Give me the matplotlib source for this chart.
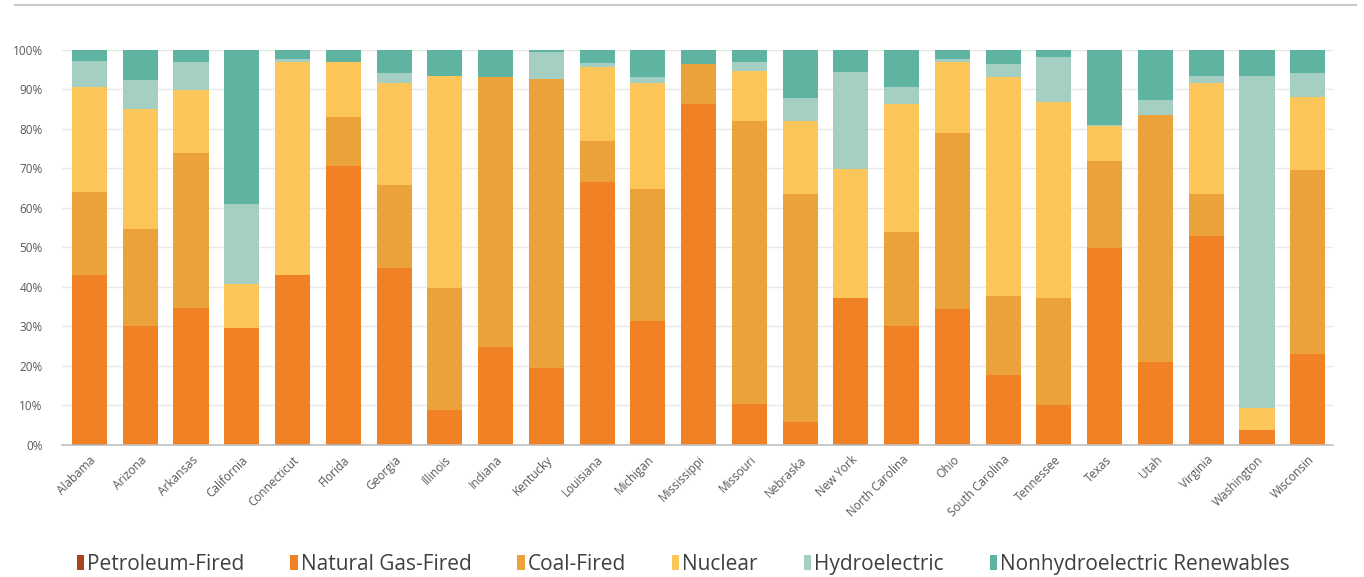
import matplotlib.pyplot as plt
import numpy as np
from matplotlib.lines import Line2D
from matplotlib.patches import Patch
from matplotlib.ticker import PercentFormatter

plt.rcParams["font.family"] = ["Open Sans", "DejaVu Sans"]

states = ["Alabama", "Arizona", "Arkansas", "California", "Connecticut", "Florida",
          "Georgia", "Illinois", "Indiana", "Kentucky", "Louisiana", "Michigan",
          "Mississippi", "Missouri", "Nebraska", "New York", "North Carolina", "Ohio",
          "South Carolina", "Tennessee", "Texas", "Utah", "Virginia", "Washington",
          "Wisconsin"]

# shares in percent
petroleum = [0.2, 0.1, 0.1, 0.1, 0.2, 0.3, 0.1, 0.1, 0.1, 0.1, 0.2, 0.2, 0.1,
             0.1, 0.1, 0.3, 0.1, 0.1, 0.1, 0.1, 0.0, 0.1, 0.2, 0.0, 0.1]
natural_gas = [42.8, 30.0, 34.7, 29.6, 42.8, 70.3, 44.6, 8.8, 24.8, 19.3, 66.3, 31.3, 86.1,
               10.4, 5.6, 37.0, 30.0, 34.2, 17.6, 10.0, 49.8, 20.8, 52.7, 3.8, 22.9]
coal = [21.0, 24.7, 39.2, 0.0, 0.0, 12.5, 21.0, 30.8, 68.2, 73.2, 10.5, 33.4, 10.3,
        71.5, 57.8, 0.0, 23.7, 44.8, 20.0, 27.0, 22.1, 62.6, 10.6, 0.0, 46.6]
nuclear = [26.5, 30.3, 15.9, 11.0, 54.0, 13.8, 25.9, 53.7, 0.0, 0.0, 18.8, 26.7, 0.0,
           12.8, 18.6, 32.6, 32.5, 17.9, 55.5, 49.8, 8.9, 0.0, 28.1, 5.5, 18.6]
hydro = [6.8, 7.2, 7.0, 20.4, 0.6, 0.0, 2.5, 0.0, 0.0, 7.0, 0.8, 1.5, 0.0,
         2.2, 5.7, 24.6, 4.4, 0.6, 3.3, 11.4, 0.2, 3.8, 1.8, 84.1, 5.9]
renewables = [2.7, 7.7, 3.1, 38.9, 2.4, 3.1, 5.9, 6.6, 6.9, 0.4, 3.4, 6.9, 3.5,
              3.0, 12.2, 5.5, 9.3, 2.4, 3.5, 1.7, 19.0, 12.7, 6.6, 6.6, 5.9]

series = [
    ("Petroleum-Fired", petroleum, "#A9431E"),
    ("Natural Gas-Fired", natural_gas, "#F08124"),
    ("Coal-Fired", coal, "#EBA23B"),
    ("Nuclear", nuclear, "#FDC65A"),
    ("Hydroelectric", hydro, "#A5CFC3"),
    ("Nonhydroelectric Renewables", renewables, "#5EB4A0"),
]

fig = plt.figure(figsize=(13.64, 5.77), dpi=100)
ax = fig.add_axes([0.0455, 0.2288, 0.9315, 0.6846])

x = np.arange(len(states))
bottom = np.zeros(len(states))
for name, vals, color in series:
    v = np.array(vals) / 100.0
    ax.bar(x, v, width=0.69, bottom=bottom, color=color, linewidth=0, zorder=2)
    bottom += v

ax.set_xlim(-0.54, len(states) - 0.51)
ax.set_ylim(0, 1.0)
ax.set_yticks(np.arange(0, 1.01, 0.1))
ax.yaxis.set_major_formatter(PercentFormatter(1.0, decimals=0))
ax.grid(axis="y", color="#E8E8E8", linewidth=1, zorder=0)
ax.set_axisbelow(True)

for s in ["top", "right", "left"]:
    ax.spines[s].set_visible(False)
ax.spines["bottom"].set_color("#BFBFBF")
ax.spines["bottom"].set_linewidth(1.2)

ax.tick_params(length=0, colors="#595959", labelsize=8.5)
ax.tick_params(axis="y", pad=14)
ax.set_xticks(x)
ax.set_xticklabels(states, rotation=45, ha="right", rotation_mode="anchor", fontsize=8.5)
ax.tick_params(axis="x", pad=6)

handles = [Patch(facecolor=c, edgecolor="none") for _, _, c in series]
labels = [n for n, _, _ in series]
fig.legend(handles, labels, loc="center", bbox_to_anchor=(0.501, 0.022), ncol=6,
           frameon=False, fontsize=15, handlelength=0.35, handleheight=0.7,
           handletextpad=0.15, columnspacing=2.2, labelcolor="#404040")

fig.add_artist(Line2D([0.011, 0.994], [0.991, 0.991], color="#C8C8C8", linewidth=1.5))

fig.savefig("out.png", dpi=100, facecolor="white")
